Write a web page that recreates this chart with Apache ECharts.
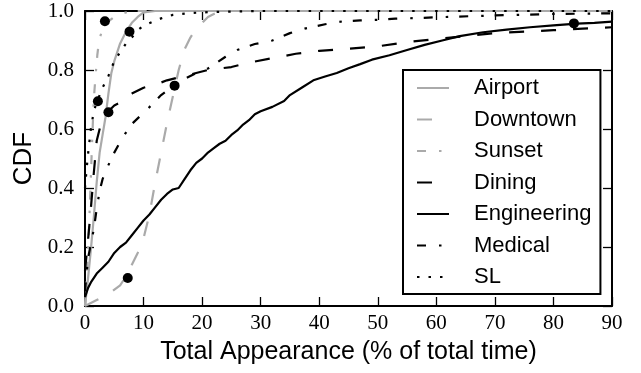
<!DOCTYPE html>
<html>
<head>
<meta charset="utf-8">
<script src="https://cdn.jsdelivr.net/npm/echarts@6/dist/echarts.min.js"></script>
<style>
  html, body { margin: 0; padding: 0; background: #fff; }
  #chart { width: 641px; height: 373px; }
</style>
</head>
<body>
<div id="chart"></div>
<script>
// CDF curves, [x, y] pairs
const airport = [[0,0],[0.5,0.09],[1,0.19],[1.5,0.3],[2,0.42],[2.5,0.52],[3,0.58],[3.5,0.64],[4,0.72],[4.5,0.79],[5,0.83],[6,0.89],[7,0.93],[8,0.96],[9,0.98],[10,0.995],[12,1],[90,1]]
const downtown = [[0,0],[2,0.02],[4,0.04],[6,0.07],[7,0.1],[8,0.14],[9,0.18],[10,0.23],[11,0.31],[12,0.42],[13,0.52],[14,0.62],[15,0.71],[16,0.8],[17,0.87],[18,0.91],[19,0.94],[20,0.96],[21,0.98],[22,0.99],[23.5,1],[90,1]]
const sunset = [[0,0],[0.3,0.1],[0.6,0.22],[0.9,0.38],[1.2,0.55],[1.5,0.7],[1.8,0.78],[2.1,0.85],[2.4,0.9],[3,0.94],[4,0.965],[5,0.98],[6,0.99],[8,1],[90,1]]
const dining = [[0,0.12],[0.5,0.22],[1,0.33],[1.5,0.45],[2,0.56],[2.5,0.6],[3,0.63],[4,0.66],[5,0.68],[6,0.69],[7,0.71],[8,0.72],[10,0.74],[12,0.75],[14,0.765],[16,0.775],[18,0.785],[21,0.8],[25,0.81],[28,0.825],[32,0.84],[36,0.855],[40,0.865],[45,0.872],[50,0.88],[55,0.895],[60,0.905],[65,0.915],[70,0.925],[75,0.93],[80,0.935],[85,0.94],[90,0.945]]
const engineering = [[0,0.03],[0.5,0.06],[1,0.08],[2,0.11],[3,0.13],[4,0.15],[5,0.18],[6,0.2],[7,0.215],[8,0.24],[9,0.265],[10,0.29],[11,0.31],[12,0.335],[13,0.36],[14,0.38],[15,0.395],[16,0.4],[17,0.43],[18,0.46],[19,0.485],[20,0.5],[21,0.52],[22,0.535],[23,0.55],[24,0.56],[25,0.58],[26,0.595],[27,0.615],[28,0.63],[29,0.65],[30,0.66],[32,0.675],[34,0.695],[35,0.715],[37,0.74],[39,0.765],[41,0.778],[43,0.79],[45,0.806],[47,0.82],[49,0.835],[52,0.85],[55,0.868],[58,0.885],[61,0.9],[64,0.915],[68,0.928],[72,0.937],[76,0.945],[80,0.951],[84,0.957],[87,0.96],[90,0.964]]
const medical = [[0,0.05],[0.5,0.16],[1,0.21],[1.5,0.26],[2,0.33],[2.5,0.39],[3,0.43],[3.75,0.467],[5,0.52],[6.5,0.574],[8,0.617],[10.8,0.67],[13,0.715],[15,0.745],[17,0.77],[19,0.79],[21,0.805],[22.5,0.825],[24,0.845],[26,0.868],[29,0.888],[32,0.9],[35,0.925],[37.5,0.94],[41,0.955],[44,0.965],[47,0.968],[50,0.97],[53,0.974],[56.5,0.976],[62,0.98],[70,0.985],[80,0.99],[90,0.992]]
const sl = [[0,0.4],[0.3,0.47],[0.6,0.53],[1,0.6],[1.5,0.66],[2,0.69],[3,0.74],[4,0.78],[5,0.83],[6,0.86],[7,0.89],[8,0.91],[9,0.935],[10,0.95],[11.5,0.963],[13,0.975],[15,0.987],[18,0.993],[22,0.997],[30,1],[90,1]]
// black marker dots
const markers = [[3.4,0.965],[7.6,0.93],[2.2,0.694],[4,0.657],[15.3,0.747],[7.3,0.095],[83.5,0.958]]

const xTicks = { min: 0, max: 90, interval: 10 }
const yTicks = { min: 0, max: 1, interval: 0.2 }

const GRAY = '#aaaaaa'
const BLACK = '#000000'
const LW = 2.2

const DASHED = [15, 17]
const DASHDOT = [9, 13, 2.5, 11]
const DOTTED = [2.5, 9]

const curves = [
  { name: 'Airport', data: airport, color: GRAY, type: 'solid' },
  { name: 'Downtown', data: downtown, color: GRAY, type: DASHED },
  { name: 'Sunset', data: sunset, color: GRAY, type: DASHDOT },
  { name: 'Dining', data: dining, color: BLACK, type: DASHED },
  { name: 'Engineering', data: engineering, color: BLACK, type: 'solid' },
  { name: 'Medical', data: medical, color: BLACK, type: DASHDOT },
  { name: 'SL', data: sl, color: BLACK, type: DOTTED },
]

const series = curves.map(c => ({
  name: c.name,
  type: 'line',
  data: c.data,
  symbol: 'none',
  showSymbol: false,
  color: c.color,
  lineStyle: { color: c.color, width: LW, type: c.type },
  z: 2
}))
series.push({
  type: 'scatter',
  data: markers,
  symbol: 'circle',
  symbolSize: 10,
  itemStyle: { color: BLACK, opacity: 1 },
  z: 3
})

const frameLine = { show: true, onZero: false, lineStyle: { color: BLACK, width: 2 } }
const innerTick = { show: true, inside: true, length: 9, lineStyle: { color: BLACK, width: 1.3 } }
const serif = 'Liberation Serif'
const sans = 'Liberation Sans'

const option = {
  animation: false,
  backgroundColor: '#fff',
  grid: { left: 85, right: 29, top: 11, bottom: 67 },
  legend: {
    orient: 'vertical',
    left: 403,
    top: 70,
    padding: [7, 9, 6, 13],
    itemWidth: 32,
    itemHeight: 14,
    itemGap: 9.5,
    backgroundColor: '#fff',
    borderColor: BLACK,
    borderWidth: 2,
    borderRadius: 0,
    data: curves.map(c => c.name),
    itemStyle: { color: 'rgba(0,0,0,0)', borderWidth: 0, opacity: 0 },
    textStyle: { fontFamily: sans, fontSize: 22, lineHeight: 22, color: '#000', padding: [0, 0, 0, 20] },
    z: 10
  },
  xAxis: [
    {
      type: 'value', ...xTicks, position: 'bottom',
      axisLine: frameLine, axisTick: innerTick, splitLine: { show: false },
      axisLabel: { fontFamily: serif, fontSize: 21, color: '#000', margin: 7 },
      name: 'Total Appearance (% of total time)',
      nameLocation: 'middle', nameGap: 34,
      nameTextStyle: { fontFamily: sans, fontSize: 25, color: '#000' }
    },
    {
      type: 'value', ...xTicks, position: 'top',
      axisLine: frameLine, axisTick: innerTick, splitLine: { show: false },
      axisLabel: { show: false }
    }
  ],
  yAxis: [
    {
      type: 'value', ...yTicks, position: 'left',
      axisLine: frameLine, axisTick: innerTick, splitLine: { show: false },
      axisLabel: { fontFamily: serif, fontSize: 21, color: '#000', margin: 11, formatter: v => v.toFixed(1) },
      name: 'CDF',
      nameLocation: 'middle', nameGap: 48,
      nameTextStyle: { fontFamily: sans, fontSize: 26, color: '#000' }
    },
    {
      type: 'value', ...yTicks, position: 'right',
      axisLine: frameLine, axisTick: innerTick, splitLine: { show: false },
      axisLabel: { show: false }
    }
  ],
  series
}

const chart = echarts.init(document.getElementById('chart'), null, { renderer: 'canvas' })
chart.setOption(option)
</script>
</body>
</html>
